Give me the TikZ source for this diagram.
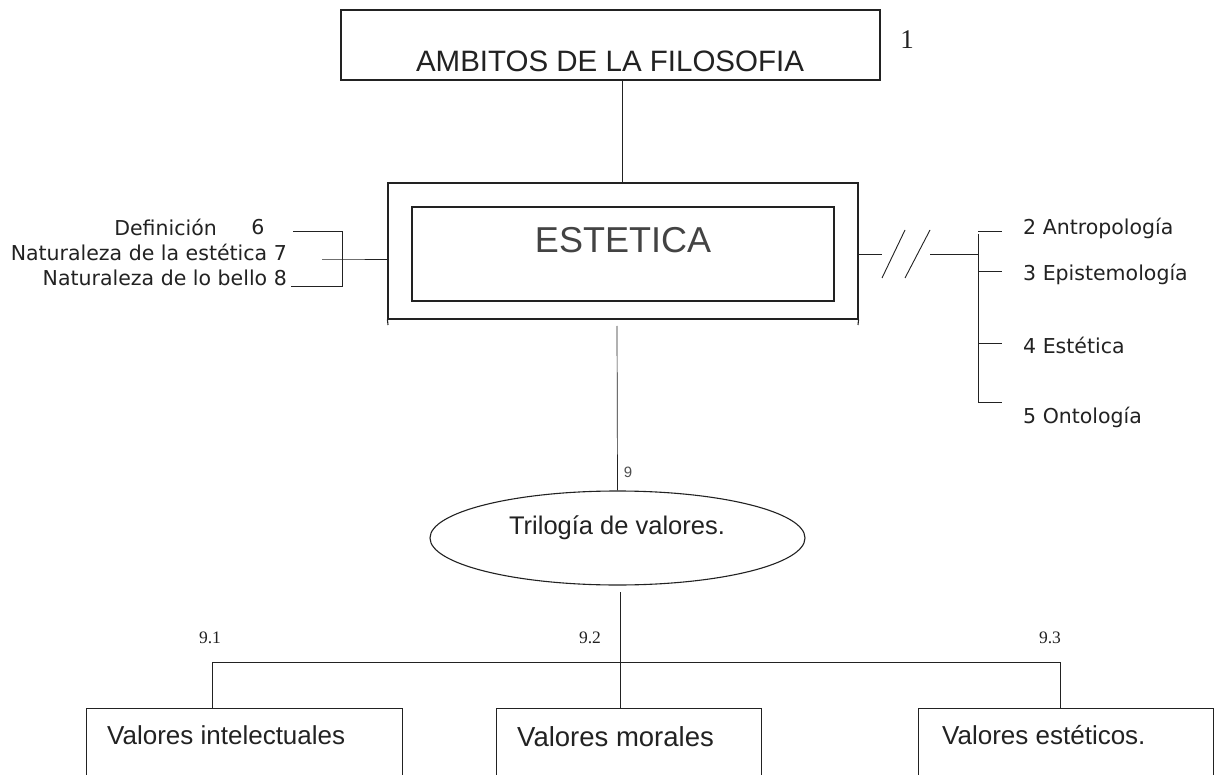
\documentclass[tikz,border=0pt]{standalone}
\usepackage{fontspec}
\setmainfont{Liberation Sans}
\newfontfamily\verd{DejaVu Sans}
\newfontfamily\tms{Liberation Serif}
\usetikzlibrary{shapes.geometric}
\definecolor{ink}{HTML}{222222}
\tikzset{
  frame/.style={draw=ink, line width=1.1pt, inner sep=0pt, rectangle},
  conn/.style={draw=ink, line width=0.9pt},
  thin/.style={draw=ink, line width=0.7pt},
  sidetxt/.style={font=\verd\fontsize{20.5}{23}\selectfont, text=ink, inner sep=0pt},
  numtxt/.style={font=\tms\fontsize{17.5}{20}\selectfont, text=ink, inner sep=0pt},
  valtxt/.style={font=\fontsize{26}{30}\selectfont, text=ink, inner sep=0pt, anchor=west},
}
\begin{document}
\begin{tikzpicture}[x=1pt,y=-1pt]
\clip (0,0) rectangle (1220,775);
\fill[white] (0,0) rectangle (1220,775);

% top box
\node[frame, minimum width=539pt, minimum height=70pt] (top) at (610.5,45) {};
\node[font=\fontsize{29.5}{34}\selectfont, text=ink, inner sep=0pt] (toptxt) at (610,61) {AMBITOS DE LA FILOSOFIA};
\node[font=\tms\fontsize{27}{30}\selectfont, text=ink, inner sep=0pt] (one) at (907,40) {1};

% ESTETICA double box
\node[frame, minimum width=470pt, minimum height=136pt] (outer) at (623,251) {};
\node[frame, minimum width=422pt, minimum height=94pt] (inner) at (623,254) {};
\node[font=\fontsize{36}{40}\selectfont, text=ink!85, inner sep=0pt] (est) at (623,240) {ESTETICA};
\coordinate (obl) at (388,325);
\coordinate (obr) at (858,325);
\draw[frame] (outer.south west) -- (obl);
\draw[frame] (outer.south east) -- (obr);

% top to outer
\coordinate (t1) at (622,80);
\coordinate (t2) at (622,183);
\draw[conn] (t1) -- (t2);

% left bracket
\node[sidetxt, anchor=east] (def) at (217,227) {Definición};
\node[sidetxt] (six) at (258,227) {6};
\node[sidetxt, anchor=east] (nat7) at (287,252) {Naturaleza de la estética 7};
\node[sidetxt, anchor=east] (nat8) at (287,278) {Naturaleza de lo bello 8};
\coordinate (l1a) at (293,231); \coordinate (l1b) at (342,231);
\coordinate (l2a) at (322,259); \coordinate (l2b) at (342,259);
\coordinate (l3a) at (291,286); \coordinate (l3b) at (342,286);
\coordinate (lj) at (388,259);
\draw[conn] (l1a) -- (l1b) -- (l3b) -- (l3a);
\draw[conn] (l2a) -- (l2b) -- (lj);

% right side
\coordinate (r0) at (858,254);
\coordinate (r1) at (882,254);
\coordinate (s1a) at (882,278); \coordinate (s1b) at (905,230);
\coordinate (s2a) at (905,278); \coordinate (s2b) at (930,230);
\coordinate (r2) at (930,254);
\coordinate (r3) at (978,254);
\draw[conn] (r0) -- (r1);
\draw[conn] (s1a) -- (s1b);
\draw[conn] (s2a) -- (s2b);
\draw[conn] (r2) -- (r3);
\coordinate (vt) at (978,234);
\coordinate (vb) at (978,402);
\draw[conn] (vt) -- (vb);
\foreach \yy/\nm in {231/a,271/b,343/c,402/d}{
  \coordinate (tk\nm1) at (978,\yy);
  \coordinate (tk\nm2) at (1002,\yy);
  \draw[conn] (tk\nm1) -- (tk\nm2);
}
\node[sidetxt, anchor=west] (ant) at (1023,228) {2 Antropología};
\node[sidetxt, anchor=west] (epi) at (1023,274) {3 Epistemología};
\node[sidetxt, anchor=west] (esa) at (1023,345) {4 Estética};
\node[sidetxt, anchor=west] (ont) at (1023,417) {5 Ontología};

% ellipse
\node[ellipse, draw=ink, line width=1.1pt, minimum width=375pt, minimum height=94pt, inner sep=0pt] (tri) at (617.5,538) {};
\node[font=\fontsize{25.5}{29}\selectfont, text=ink, inner sep=0pt] (tritxt) at (617,528) {Trilogía de valores.};
\coordinate (e1) at (617,326);
\draw[thin] (e1) -- (tri.north);
\node[font=\fontsize{15}{18}\selectfont, text=ink!80, inner sep=0pt] (nine) at (628,472) {9};

% bottom tree
\coordinate (eb) at (620,592);
\coordinate (bar1) at (212,662);
\coordinate (bar3) at (1060,662);
\draw[conn] (bar1) -- (bar3);
\node[frame, minimum width=316pt, minimum height=120pt, anchor=north west] (v1) at (86,708) {};
\node[frame, minimum width=265pt, minimum height=120pt, anchor=north west] (v2) at (496,708) {};
\node[frame, minimum width=295pt, minimum height=120pt, anchor=north west] (v3) at (918,708) {};
\draw[thin] (eb) -- (eb |- v2.north);
\draw[thin] (bar1) -- (bar1 |- v1.north);
\draw[thin] (bar3) -- (bar3 |- v3.north);
\node[valtxt] (v1t) at (107,735) {Valores intelectuales};
\node[valtxt, font=\fontsize{27.5}{31}\selectfont] (v2t) at (517,737) {Valores morales};
\node[valtxt] (v3t) at (942,735) {Valores estéticos.};
\node[numtxt] (n91) at (210,638) {9.1};
\node[numtxt] (n92) at (590,638) {9.2};
\node[numtxt] (n93) at (1050,638) {9.3};
\end{tikzpicture}
\end{document}
